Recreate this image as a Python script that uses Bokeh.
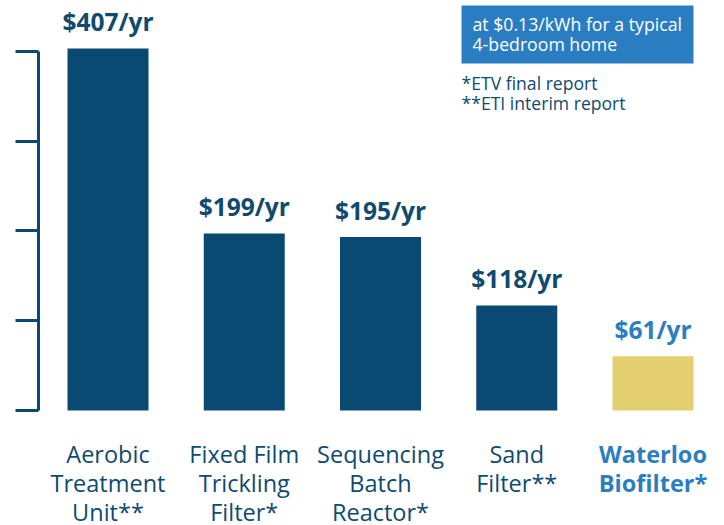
from bokeh.plotting import figure
from bokeh.models import Range1d, ColumnDataSource, FixedTicker, BoxAnnotation, Label, CustomJSTickFormatter
from bokeh.core.properties import value
from bokeh.embed import file_html
from bokeh.resources import INLINE

# ---- data ----
categories = ["Aerobic\nTreatment\nUnit**", "Fixed Film\nTrickling\nFilter*",
              "Sequencing\nBatch\nReactor*", "Sand\nFilter**", "Waterloo\nBiofilter*"]
costs = [407, 199, 195, 118, 61]
value_labels = ["$407/yr", "$199/yr", "$195/yr", "$118/yr", "$61/yr"]
tick_values = [0, 101, 202, 303, 404]
note_box_lines = ["at $0.13/kWh for a typical", "4-bedroom home"]
footnotes = ["*ETV final report", "**ETI interim report"]

NAVY = "#0a4a72"
TEXT_NAVY = "#0f4a6f"
BLUE = "#2b7dc1"
YELLOW = "#e3cf70"

n = len(categories)
xs = list(range(n))
bar_colors = [NAVY] * (n - 1) + [YELLOW]
label_colors = [TEXT_NAVY] * (n - 1) + [BLUE]
cat_styles = ["normal"] * (n - 1) + ["bold"]

src = ColumnDataSource(dict(x=xs, top=costs, vlab=value_labels, cat=categories,
                            bc=bar_colors, lc=label_colors, cs=cat_styles))

W, H = 724, 525
LEFT = 38
px_per_unit = 362 / 407
base_px_from_bottom = 115
y_start = -base_px_from_bottom / px_per_unit
y_end = (H - base_px_from_bottom) / px_per_unit
step = 136.25
x_start = (LEFT - 107.5) / step
x_end = (W - 107.5) / step

p = figure(width=W, height=H, output_backend="svg", toolbar_location=None,
           x_range=Range1d(x_start, x_end), y_range=Range1d(y_start, y_end),
           x_axis_location=None, y_axis_location="left",
           min_border_left=LEFT, min_border_right=0, min_border_top=0, min_border_bottom=0)
p.outline_line_color = None
p.xgrid.visible = False
p.ygrid.visible = False
p.background_fill_color = "white"
p.border_fill_color = "white"

ax = p.yaxis[0]
ax.ticker = FixedTicker(ticks=tick_values, minor_ticks=[])
ax.bounds = (tick_values[0], tick_values[-1])
ax.axis_line_color = NAVY
ax.axis_line_width = 3
ax.major_tick_line_color = NAVY
ax.major_tick_line_width = 3
ax.major_tick_out = 23
ax.major_tick_in = 0
ax.minor_tick_line_color = None
ax.formatter = CustomJSTickFormatter(code="return '';")
ax.major_label_standoff = 0

p.vbar(x="x", top="top", bottom=0, width=0.5945, fill_color="bc", line_color=None, source=src)

p.text(x="x", y="top", text="vlab", source=src, text_color="lc",
       text_font=value("Open Sans"), text_font_style="bold", text_font_size="24.5px",
       text_align="center", text_baseline="alphabetic", y_offset=-27)

p.text(x="x", y=0, text="cat", source=src, text_color="lc",
       text_font=value("Open Sans"), text_font_style="cs", text_font_size="23.5px",
       text_align="center", text_baseline="top", y_offset=27, text_line_height=0.91)

# note box (screen units relative to frame)
p.add_layout(BoxAnnotation(left=461 - LEFT, right=693 - LEFT, bottom=H - 63, top=H - 5,
                           left_units="screen", right_units="screen",
                           top_units="screen", bottom_units="screen",
                           fill_color=BLUE, fill_alpha=1, line_color=None))
for i, t in enumerate(note_box_lines):
    p.add_layout(Label(x=472 - LEFT, y=H - (23 + 20.7 * i), x_units="screen", y_units="screen",
                       text=t, text_color="white", text_font="Open Sans",
                       text_font_size="17.7px", text_baseline="alphabetic"))
for i, t in enumerate(footnotes):
    p.add_layout(Label(x=461 - LEFT, y=H - (82.5 + 20 * i), x_units="screen", y_units="screen",
                       text=t, text_color=TEXT_NAVY, text_font="Open Sans",
                       text_font_size="17.6px", text_baseline="alphabetic"))

open("out.html", "w").write(file_html(p, INLINE))
